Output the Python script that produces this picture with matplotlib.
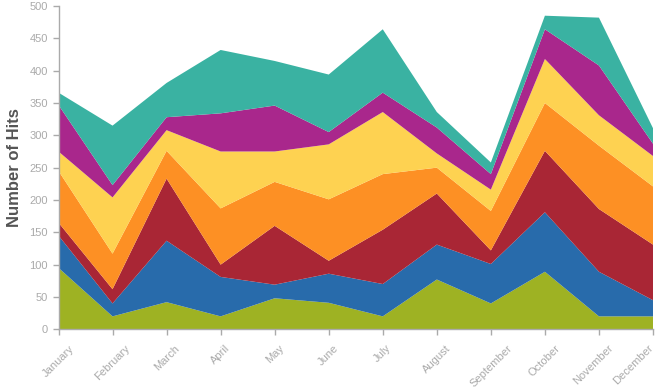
import matplotlib
matplotlib.use('Agg')
import matplotlib.pyplot as plt
import matplotlib.transforms as mtrans
import numpy as np

months = ['January', 'February', 'March', 'April', 'May', 'June', 'July',
          'August', 'September', 'October', 'November', 'December']

# seven stacked series, bottom to top
s1 = [95, 20, 42, 20, 48, 41, 20, 77, 40, 89, 20, 20]
s2 = [50, 20, 95, 61, 21, 45, 50, 54, 61, 92, 69, 25]
s3 = [20, 22, 96, 19, 91, 20, 84, 79, 21, 95, 97, 86]
s4 = [80, 55, 43, 87, 68, 95, 86, 40, 61, 74, 98, 90]
s5 = [30, 87, 32, 88, 47, 85, 96, 22, 33, 68, 47, 47]
s6 = [72, 19, 20, 59, 71, 19, 30, 40, 24, 46, 77, 19]
s7 = [19, 92, 53, 98, 69, 89, 98, 24, 18, 21, 74, 24]

colors = ['#9bb01c', '#2166a8', '#a61f2e', '#fd8d1d', '#fed14b', '#a62088', '#33b09f']

plt.rcParams['font.family'] = ['Liberation Sans', 'DejaVu Sans']

fig = plt.figure(figsize=(6.6, 3.9), dpi=100)
ax = fig.add_axes([58.5 / 660, 60.7 / 390, (653 - 58.5) / 660, 323.3 / 390])

x = np.arange(len(months))
ax.stackplot(x, s1, s2, s3, s4, s5, s6, s7, colors=colors, linewidth=0.6,
             edgecolor='none', alpha=0.97)

ax.set_xlim(0, len(months) - 1)
ax.set_ylim(0, 500)
ax.set_yticks(range(0, 501, 50))
ax.set_xticks(x)
ax.set_xticklabels(months, rotation=45, ha='center', va='top')

for side in ['top', 'right']:
    ax.spines[side].set_visible(False)
for side in ['left', 'bottom']:
    ax.spines[side].set_color('#aaaaaa')
    ax.spines[side].set_linewidth(1)

ax.tick_params(axis='both', colors='#aaaaaa', labelcolor='#aaaaaa',
               labelsize=8, length=4, width=1)
ax.tick_params(axis='x', pad=6)
ax.set_ylabel('Number of Hits', fontsize=12, fontweight='bold', color='#555555')
ax.yaxis.set_label_coords(-0.062, 0.5)

# last two labels are pushed left so they stay inside the picture
lbls = ax.get_xticklabels()
for lbl, dx in [(lbls[-2], -6), (lbls[-1], -20)]:
    lbl.set_transform(lbl.get_transform() +
                      mtrans.ScaledTranslation(dx / 100, 0, fig.dpi_scale_trans))

fig.savefig('out.png', dpi=100)
